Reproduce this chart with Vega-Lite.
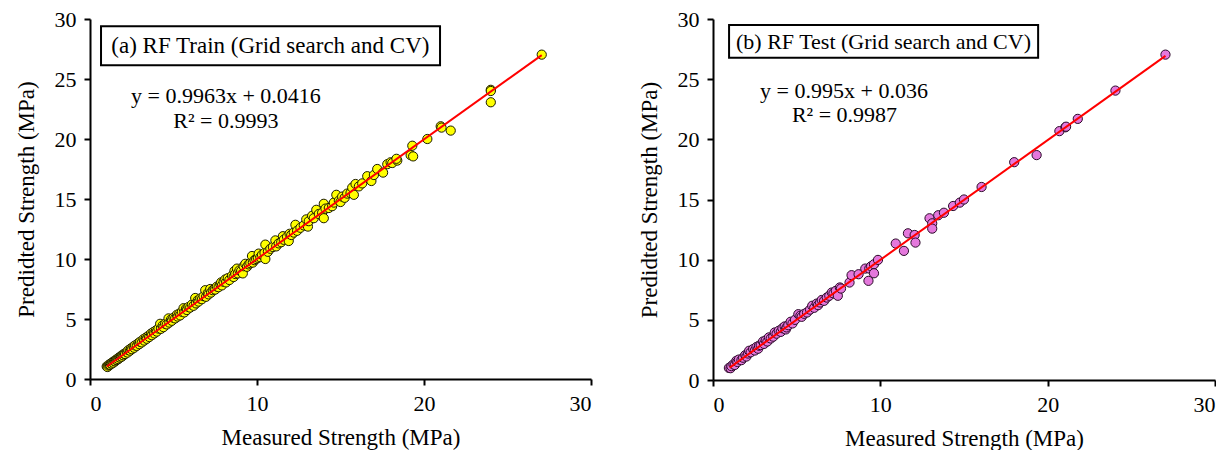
{
  "$schema": "https://vega.github.io/schema/vega-lite/v6.json",
  "background": "white",
  "padding": {"left": 15, "top": 8, "right": 0, "bottom": 0},
  "spacing": 46,
  "config": {
    "view": {"stroke": null},
    "font": "Liberation Serif",
    "axis": {"domainColor": "black", "domainWidth": 2, "tickColor": "black", "tickWidth": 2, "tickSize": 6, "labelFont": "Liberation Serif", "labelFontSize": 22, "labelColor": "black", "labelPadding": 8, "titleFont": "Liberation Serif", "titleFontSize": 23, "titleFontWeight": "normal", "titleColor": "black", "grid": false}
  },
  "datasets": {
    "train": [
      {"measured":1.0,"predicted":1.05},{"measured":1.05,"predicted":1.0},{"measured":1.1,"predicted":1.12},{"measured":1.15,"predicted":1.2},{"measured":1.2,"predicted":1.18},{"measured":1.25,"predicted":1.3},{"measured":1.3,"predicted":1.28},{"measured":1.35,"predicted":1.4},{"measured":1.4,"predicted":1.36},{"measured":1.45,"predicted":1.5},{"measured":1.5,"predicted":1.47},{"measured":1.55,"predicted":1.6},{"measured":1.6,"predicted":1.58},{"measured":1.65,"predicted":1.7},{"measured":1.7,"predicted":1.66},{"measured":1.75,"predicted":1.8},{"measured":1.8,"predicted":1.78},{"measured":1.85,"predicted":1.9},{"measured":1.9,"predicted":1.86},{"measured":1.95,"predicted":2.02},{"measured":2.0,"predicted":1.97},{"measured":2.05,"predicted":2.1},{"measured":2.1,"predicted":2.08},{"measured":2.2,"predicted":2.25},{"measured":2.25,"predicted":2.2},{"measured":2.3,"predicted":2.4},{"measured":2.4,"predicted":2.36},{"measured":2.45,"predicted":2.55},{"measured":2.5,"predicted":2.48},{"measured":2.6,"predicted":2.7},{"measured":2.65,"predicted":2.6},{"measured":2.7,"predicted":2.8},{"measured":2.8,"predicted":2.76},{"measured":2.9,"predicted":3.0},{"measured":2.95,"predicted":2.9},{"measured":3.0,"predicted":3.1},{"measured":3.1,"predicted":3.05},{"measured":3.2,"predicted":3.32},{"measured":3.25,"predicted":3.2},{"measured":3.35,"predicted":3.45},{"measured":3.4,"predicted":3.35},{"measured":3.5,"predicted":3.6},{"measured":3.55,"predicted":3.5},{"measured":3.65,"predicted":3.78},{"measured":3.7,"predicted":3.65},{"measured":3.8,"predicted":3.92},{"measured":3.85,"predicted":3.8},{"measured":3.95,"predicted":4.05},{"measured":4.0,"predicted":3.95},{"measured":4.1,"predicted":4.2},{"measured":4.2,"predicted":4.6},{"measured":4.25,"predicted":4.18},{"measured":4.35,"predicted":4.45},{"measured":4.4,"predicted":4.32},{"measured":4.5,"predicted":4.6},{"measured":4.6,"predicted":4.55},{"measured":4.7,"predicted":5.05},{"measured":4.75,"predicted":4.7},{"measured":4.85,"predicted":4.95},{"measured":4.9,"predicted":4.85},{"measured":5.0,"predicted":5.1},{"measured":5.1,"predicted":5.05},{"measured":5.2,"predicted":5.35},{"measured":5.25,"predicted":5.2},{"measured":5.35,"predicted":5.45},{"measured":5.4,"predicted":5.3},{"measured":5.5,"predicted":5.6},{"measured":5.6,"predicted":5.9},{"measured":5.65,"predicted":5.55},{"measured":5.75,"predicted":5.85},{"measured":5.8,"predicted":5.75},{"measured":5.9,"predicted":6.0},{"measured":6.0,"predicted":5.95},{"measured":6.1,"predicted":6.2},{"measured":6.2,"predicted":6.1},{"measured":6.3,"predicted":6.75},{"measured":6.35,"predicted":6.3},{"measured":6.45,"predicted":6.55},{"measured":6.5,"predicted":6.45},{"measured":6.6,"predicted":6.7},{"measured":6.7,"predicted":6.65},{"measured":6.8,"predicted":6.9},{"measured":6.9,"predicted":7.4},{"measured":6.95,"predicted":6.85},{"measured":7.05,"predicted":7.15},{"measured":7.1,"predicted":7.05},{"measured":7.2,"predicted":7.5},{"measured":7.25,"predicted":7.2},{"measured":7.35,"predicted":7.4},{"measured":7.45,"predicted":7.5},{"measured":7.5,"predicted":7.45},{"measured":7.6,"predicted":7.7},{"measured":7.7,"predicted":7.65},{"measured":7.8,"predicted":7.9},{"measured":7.85,"predicted":8.05},{"measured":7.9,"predicted":7.8},{"measured":8.0,"predicted":8.1},{"measured":8.1,"predicted":8.3},{"measured":8.15,"predicted":8.05},{"measured":8.25,"predicted":8.4},{"measured":8.35,"predicted":8.25},{"measured":8.5,"predicted":8.6},{"measured":8.6,"predicted":8.5},{"measured":8.65,"predicted":9.0},{"measured":8.7,"predicted":8.75},{"measured":8.8,"predicted":9.2},{"measured":8.85,"predicted":8.8},{"measured":8.95,"predicted":9.05},{"measured":9.05,"predicted":9.0},{"measured":9.15,"predicted":8.8},{"measured":9.2,"predicted":9.4},{"measured":9.3,"predicted":9.6},{"measured":9.4,"predicted":9.35},{"measured":9.5,"predicted":9.55},{"measured":9.6,"predicted":9.65},{"measured":9.7,"predicted":10.25},{"measured":9.75,"predicted":9.7},{"measured":9.85,"predicted":9.9},{"measured":9.95,"predicted":10.0},{"measured":10.05,"predicted":10.1},{"measured":10.1,"predicted":10.45},{"measured":10.2,"predicted":10.15},{"measured":10.3,"predicted":10.35},{"measured":10.45,"predicted":10.5},{"measured":10.5,"predicted":10.0},{"measured":10.5,"predicted":11.2},{"measured":10.65,"predicted":10.6},{"measured":10.8,"predicted":10.85},{"measured":10.95,"predicted":11.0},{"measured":11.1,"predicted":11.55},{"measured":11.15,"predicted":11.05},{"measured":11.3,"predicted":11.3},{"measured":11.45,"predicted":11.4},{"measured":11.55,"predicted":11.9},{"measured":11.6,"predicted":11.6},{"measured":11.8,"predicted":11.85},{"measured":11.9,"predicted":11.5},{"measured":11.95,"predicted":12.1},{"measured":12.05,"predicted":12.0},{"measured":12.2,"predicted":12.2},{"measured":12.3,"predicted":12.85},{"measured":12.4,"predicted":12.35},{"measured":12.6,"predicted":12.6},{"measured":12.8,"predicted":12.8},{"measured":12.95,"predicted":13.3},{"measured":13.05,"predicted":12.7},{"measured":13.1,"predicted":13.15},{"measured":13.3,"predicted":13.6},{"measured":13.4,"predicted":13.4},{"measured":13.55,"predicted":14.1},{"measured":13.7,"predicted":13.75},{"measured":13.9,"predicted":13.85},{"measured":14.0,"predicted":14.6},{"measured":14.0,"predicted":13.4},{"measured":14.1,"predicted":14.2},{"measured":14.3,"predicted":14.25},{"measured":14.5,"predicted":14.4},{"measured":14.6,"predicted":14.7},{"measured":14.75,"predicted":15.35},{"measured":14.9,"predicted":14.85},{"measured":15.0,"predicted":14.75},{"measured":15.1,"predicted":15.2},{"measured":15.25,"predicted":15.1},{"measured":15.4,"predicted":15.45},{"measured":15.6,"predicted":15.5},{"measured":15.7,"predicted":15.95},{"measured":15.8,"predicted":15.35},{"measured":15.9,"predicted":16.25},{"measured":16.1,"predicted":16.05},{"measured":16.3,"predicted":16.3},{"measured":16.6,"predicted":16.9},{"measured":16.85,"predicted":16.5},{"measured":17.0,"predicted":17.0},{"measured":17.2,"predicted":17.5},{"measured":17.55,"predicted":17.2},{"measured":17.8,"predicted":17.9},{"measured":18.0,"predicted":18.06},{"measured":18.1,"predicted":18.0},{"measured":18.4,"predicted":18.2},{"measured":18.35,"predicted":18.35},{"measured":19.2,"predicted":18.65},{"measured":19.35,"predicted":18.55},{"measured":19.3,"predicted":19.44},{"measured":20.2,"predicted":20.0},{"measured":21.0,"predicted":21.06},{"measured":21.05,"predicted":20.95},{"measured":21.6,"predicted":20.7},{"measured":24.0,"predicted":24.1},{"measured":24.0,"predicted":24.0},{"measured":24.0,"predicted":23.06},{"measured":27.05,"predicted":27.03}
    ],
    "trainFit": [{"measured": 1.0, "predicted": 1.038}, {"measured": 27.05, "predicted": 26.99}],
    "test": [
      {"measured":0.95,"predicted":1.0},{"measured":1.05,"predicted":0.98},{"measured":1.1,"predicted":1.15},{"measured":1.22,"predicted":1.3},{"measured":1.3,"predicted":1.25},{"measured":1.4,"predicted":1.6},{"measured":1.46,"predicted":1.5},{"measured":1.55,"predicted":1.7},{"measured":1.7,"predicted":1.65},{"measured":1.8,"predicted":1.85},{"measured":1.93,"predicted":2.07},{"measured":2.0,"predicted":1.95},{"measured":2.1,"predicted":2.2},{"measured":2.16,"predicted":2.43},{"measured":2.25,"predicted":2.3},{"measured":2.4,"predicted":2.57},{"measured":2.5,"predicted":2.45},{"measured":2.6,"predicted":2.75},{"measured":2.7,"predicted":2.6},{"measured":2.75,"predicted":2.85},{"measured":2.85,"predicted":2.9},{"measured":2.99,"predicted":3.2},{"measured":3.05,"predicted":3.0},{"measured":3.15,"predicted":3.3},{"measured":3.25,"predicted":3.2},{"measured":3.34,"predicted":3.54},{"measured":3.45,"predicted":3.45},{"measured":3.6,"predicted":3.6},{"measured":3.69,"predicted":3.95},{"measured":3.8,"predicted":3.85},{"measured":3.93,"predicted":4.09},{"measured":4.05,"predicted":4.0},{"measured":4.15,"predicted":4.3},{"measured":4.28,"predicted":4.45},{"measured":4.35,"predicted":4.2},{"measured":4.4,"predicted":4.37},{"measured":4.5,"predicted":4.55},{"measured":4.64,"predicted":4.84},{"measured":4.75,"predicted":4.7},{"measured":4.9,"predicted":5.0},{"measured":5.1,"predicted":5.47},{"measured":5.22,"predicted":5.34},{"measured":5.3,"predicted":5.25},{"measured":5.45,"predicted":5.5},{"measured":5.62,"predicted":5.61},{"measured":5.8,"predicted":5.85},{"measured":5.93,"predicted":6.17},{"measured":6.05,"predicted":6.0},{"measured":6.2,"predicted":6.35},{"measured":6.28,"predicted":6.22},{"measured":6.4,"predicted":6.44},{"measured":6.5,"predicted":6.65},{"measured":6.64,"predicted":6.58},{"measured":6.8,"predicted":6.85},{"measured":6.95,"predicted":7.0},{"measured":7.1,"predicted":7.27},{"measured":7.2,"predicted":7.2},{"measured":7.34,"predicted":7.41},{"measured":7.46,"predicted":7.0},{"measured":7.58,"predicted":7.69},{"measured":7.65,"predicted":7.6},{"measured":8.16,"predicted":8.1},{"measured":8.28,"predicted":8.71},{"measured":8.7,"predicted":8.79},{"measured":9.1,"predicted":9.26},{"measured":9.29,"predicted":8.24},{"measured":9.34,"predicted":9.26},{"measured":9.45,"predicted":9.45},{"measured":9.62,"predicted":9.62},{"measured":9.62,"predicted":8.87},{"measured":9.86,"predicted":9.98},{"measured":10.92,"predicted":11.34},{"measured":11.41,"predicted":10.73},{"measured":11.65,"predicted":12.19},{"measured":12.05,"predicted":12.05},{"measured":12.1,"predicted":11.42},{"measured":12.94,"predicted":13.44},{"measured":13.1,"predicted":13.02},{"measured":13.1,"predicted":12.58},{"measured":13.46,"predicted":13.69},{"measured":13.8,"predicted":13.9},{"measured":14.35,"predicted":14.46},{"measured":14.75,"predicted":14.74},{"measured":15.0,"predicted":15.0},{"measured":16.05,"predicted":16.04},{"measured":18.0,"predicted":18.1},{"measured":19.34,"predicted":18.69},{"measured":20.7,"predicted":20.68},{"measured":21.06,"predicted":21.0},{"measured":21.1,"predicted":21.05},{"measured":21.8,"predicted":21.7},{"measured":24.05,"predicted":24.05},{"measured":27.04,"predicted":27.04}
    ],
    "testFit": [{"measured": 1.0, "predicted": 1.031}, {"measured": 27.04, "predicted": 26.94}]
  },
  "hconcat": [
    {
      "width": 501,
      "height": 360,
      "layer": [
        {
          "data": {"name": "train"},
          "mark": {"type": "point", "shape": "circle", "filled": true, "fill": "#FFFF00", "stroke": "#1a1a00", "strokeWidth": 1, "size": 85, "opacity": 1},
          "encoding": {
            "x": {"field": "measured", "type": "quantitative", "scale": {"domain": [0, 30], "nice": false}, "axis": {"values": [0, 10, 20, 30], "title": "Measured Strength (MPa)", "titlePadding": 12}},
            "y": {"field": "predicted", "type": "quantitative", "scale": {"domain": [0, 30], "nice": false}, "axis": {"values": [0, 5, 10, 15, 20, 25, 30], "title": "Predidted Strength (MPa)", "titlePadding": 16}}
          }
        },
        {
          "data": {"name": "trainFit"},
          "mark": {"type": "line", "color": "#FF0000", "strokeWidth": 2},
          "encoding": {
            "x": {"field": "measured", "type": "quantitative"},
            "y": {"field": "predicted", "type": "quantitative"}
          }
        },
        {
          "data": {"values": [{"note": "box"}]},
          "mark": {"type": "rect", "fill": "white", "stroke": "black", "strokeWidth": 2},
          "encoding": {
            "x": {"datum": 0.66, "type": "quantitative"},
            "x2": {"datum": 20.96},
            "y": {"datum": 29.4, "type": "quantitative"},
            "y2": {"datum": 26.15}
          }
        },
        {
          "data": {"values": [{"note": "title"}]},
          "mark": {"type": "text", "font": "Liberation Serif", "fontSize": 23, "color": "black", "align": "center", "baseline": "middle"},
          "encoding": {"x": {"datum": 10.8, "type": "quantitative"}, "y": {"datum": 27.75, "type": "quantitative"}, "text": {"value": "(a) RF Train (Grid search and  CV)"}}
        },
        {
          "data": {"values": [{"note": "eq"}]},
          "mark": {"type": "text", "font": "Liberation Serif", "fontSize": 22, "color": "black", "align": "center", "baseline": "middle"},
          "encoding": {"x": {"datum": 8.14, "type": "quantitative"}, "y": {"datum": 23.56, "type": "quantitative"}, "text": {"value": "y = 0.9963x + 0.0416"}}
        },
        {
          "data": {"values": [{"note": "r2"}]},
          "mark": {"type": "text", "font": "Liberation Serif", "fontSize": 22, "color": "black", "align": "center", "baseline": "middle"},
          "encoding": {"x": {"datum": 8.14, "type": "quantitative"}, "y": {"datum": 21.47, "type": "quantitative"}, "text": {"value": "R² = 0.9993"}}
        }
      ]
    },
    {
      "width": 502,
      "height": 361,
      "layer": [
        {
          "data": {"name": "test"},
          "mark": {"type": "point", "shape": "circle", "filled": true, "fill": "#E478DC", "stroke": "#2a0a28", "strokeWidth": 1, "size": 85, "opacity": 1},
          "encoding": {
            "x": {"field": "measured", "type": "quantitative", "scale": {"domain": [0, 30], "nice": false}, "axis": {"values": [0, 10, 20, 30], "title": "Measured Strength (MPa)", "titlePadding": 12}},
            "y": {"field": "predicted", "type": "quantitative", "scale": {"domain": [0, 30], "nice": false}, "axis": {"values": [0, 5, 10, 15, 20, 25, 30], "title": "Predidted Strength (MPa)", "titlePadding": 16}}
          }
        },
        {
          "data": {"name": "testFit"},
          "mark": {"type": "line", "color": "#FF0000", "strokeWidth": 2},
          "encoding": {
            "x": {"field": "measured", "type": "quantitative"},
            "y": {"field": "predicted", "type": "quantitative"}
          }
        },
        {
          "data": {"values": [{"note": "box"}]},
          "mark": {"type": "rect", "fill": "white", "stroke": "black", "strokeWidth": 2},
          "encoding": {
            "x": {"datum": 0.96, "type": "quantitative"},
            "x2": {"datum": 19.43},
            "y": {"datum": 29.5, "type": "quantitative"},
            "y2": {"datum": 26.77}
          }
        },
        {
          "data": {"values": [{"note": "title"}]},
          "mark": {"type": "text", "font": "Liberation Serif", "fontSize": 22, "color": "black", "align": "center", "baseline": "middle"},
          "encoding": {"x": {"datum": 10.19, "type": "quantitative"}, "y": {"datum": 28.1, "type": "quantitative"}, "text": {"value": "(b) RF Test (Grid search and CV)"}}
        },
        {
          "data": {"values": [{"note": "eq"}]},
          "mark": {"type": "text", "font": "Liberation Serif", "fontSize": 22, "color": "black", "align": "center", "baseline": "middle"},
          "encoding": {"x": {"datum": 7.83, "type": "quantitative"}, "y": {"datum": 24.05, "type": "quantitative"}, "text": {"value": "y = 0.995x + 0.036"}}
        },
        {
          "data": {"values": [{"note": "r2"}]},
          "mark": {"type": "text", "font": "Liberation Serif", "fontSize": 22, "color": "black", "align": "center", "baseline": "middle"},
          "encoding": {"x": {"datum": 7.86, "type": "quantitative"}, "y": {"datum": 22.0, "type": "quantitative"}, "text": {"value": "R² = 0.9987"}}
        }
      ]
    }
  ]
}
